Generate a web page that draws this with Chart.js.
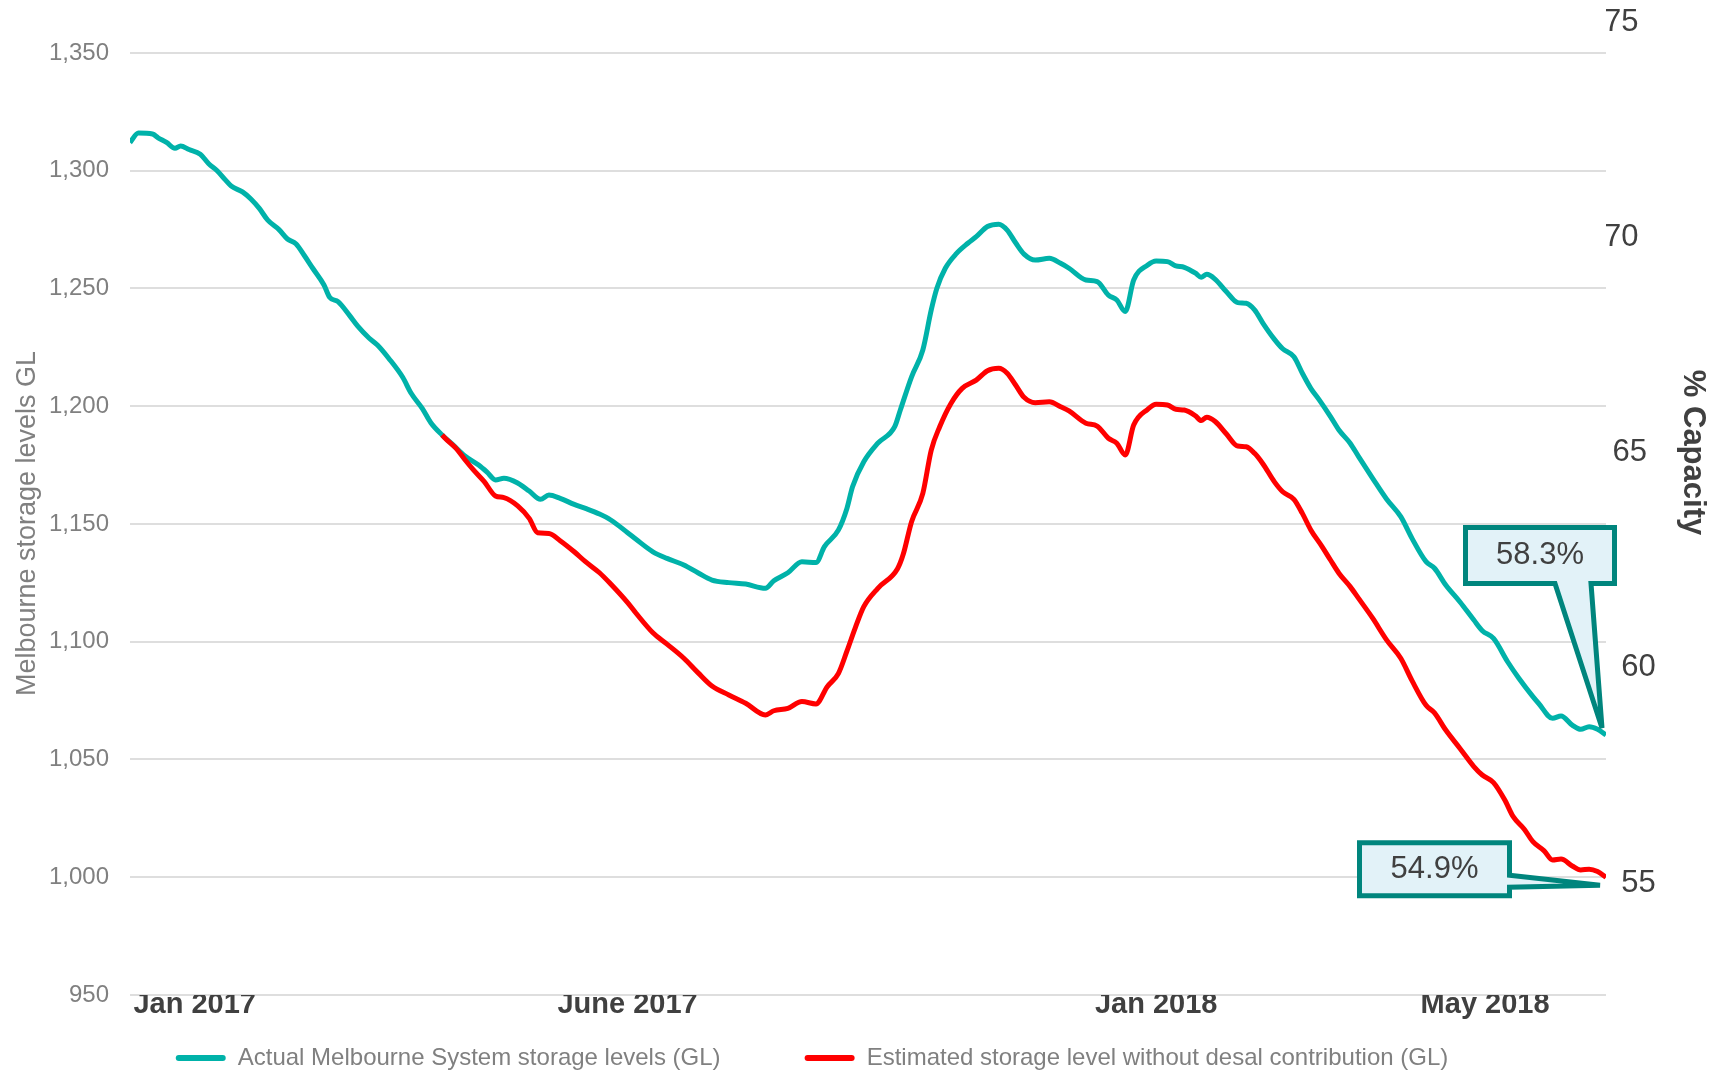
<!DOCTYPE html>
<html>
<head>
<meta charset="utf-8">
<title>Melbourne storage levels</title>
<script src="https://cdn.jsdelivr.net/npm/chart.js@4.4.0/dist/chart.umd.min.js"></script>
<style>
  html, body { margin: 0; padding: 0; background: #fff; }
</style>
</head>
<body>
<canvas id="storage-chart" width="1713" height="1073"></canvas>
<script>
// x values are days counted from the first reading (start of Jan 2017)
const actualDays = [0, 3, 8, 10, 13, 16, 18, 21, 25, 28, 31, 34, 36, 40, 43, 46, 49, 53, 56, 59, 62, 65, 69, 71, 74, 78, 81, 85, 88, 92, 97, 100, 104, 107, 111, 115, 119, 124, 127, 130, 133, 138, 142, 146, 149, 153, 158, 162, 167, 171, 177, 180, 186, 191, 197, 202, 207, 213, 219, 226, 229, 234, 239, 244, 247, 252, 255, 257, 261, 266, 272, 274, 278, 282, 285, 287, 290, 294, 298, 301, 305, 309, 312, 315, 318, 322, 327, 331, 334, 340, 344, 348, 351, 354, 357, 362, 365, 369, 372, 375, 379, 381, 383, 386, 390, 394, 397, 400, 403, 407, 410, 414, 417, 420, 423, 427, 430, 434, 437, 442, 447, 452, 456, 461, 464, 468, 473, 478, 481, 485, 490, 494, 499, 501, 506, 509, 513, 516, 519, 522, 525];
const actualGL = [1312, 1316, 1315.6, 1314, 1312, 1309.5, 1310.5, 1309, 1307, 1303, 1300, 1296, 1293.5, 1291, 1288, 1284, 1279, 1275, 1271, 1269, 1264, 1258.6, 1251.5, 1246.3, 1244.4, 1238.7, 1234, 1229, 1226, 1220.4, 1212.3, 1205.5, 1199, 1193, 1187.8, 1183.5, 1179, 1175, 1172, 1168.7, 1169.4, 1167.3, 1164, 1160.5, 1162.3, 1160.9, 1158.3, 1156.6, 1154.2, 1151.7, 1146.3, 1143.5, 1138.2, 1135.4, 1132.6, 1129.3, 1126.2, 1125.1, 1124.5, 1122.7, 1125.9, 1129.3, 1134, 1133.6, 1140.4, 1147.5, 1156.6, 1165.8, 1176.4, 1184.3, 1191.3, 1198.4, 1212.5, 1223.9, 1240.9, 1250.1, 1258.6, 1264.9, 1269.2, 1272, 1276.3, 1277.3, 1274.8, 1269.4, 1264.6, 1262.1, 1262.8, 1260.7, 1258.6, 1253.6, 1252.9, 1247.2, 1245.1, 1240.2, 1253.6, 1260, 1261.7, 1261.4, 1259.6, 1259, 1256.5, 1254.8, 1256, 1253.9, 1248.6, 1244, 1243.7, 1240.9, 1235.2, 1228.5, 1224.4, 1221, 1214, 1207.6, 1202.7, 1195.6, 1189.9, 1184.3, 1178.6, 1169.4, 1160.5, 1153.1, 1143.9, 1134, 1131.2, 1124.1, 1117, 1109.2, 1104.7, 1101.4, 1091.5, 1084.5, 1076.7, 1073.9, 1067.5, 1068.5, 1064.6, 1062.8, 1063.9, 1062.8, 1060.4];

const estDays = [111, 113, 116, 119, 122, 126, 130, 133, 138, 142, 145, 149, 153, 158, 162, 167, 171, 177, 180, 186, 191, 197, 202, 207, 213, 219, 226, 229, 234, 239, 244, 248, 252, 255, 258, 261, 266, 273, 275, 278, 282, 285, 288, 292, 296, 301, 305, 309, 312, 315, 318, 322, 327, 331, 334, 340, 344, 348, 351, 354, 357, 362, 365, 369, 372, 375, 379, 381, 383, 386, 390, 394, 397, 400, 403, 407, 410, 414, 417, 420, 424, 427, 430, 434, 437, 442, 447, 452, 456, 461, 464, 468, 473, 478, 481, 485, 489, 492, 496, 499, 503, 506, 509, 513, 516, 519, 522, 525];
const estGL = [1187.8, 1185.4, 1182.1, 1177.5, 1173.2, 1168, 1161.9, 1161.2, 1157.6, 1152.4, 1146.3, 1146, 1142.9, 1138.2, 1134, 1129.3, 1124.5, 1116.6, 1112.1, 1103.8, 1099, 1093, 1086.9, 1081.2, 1077.4, 1073.9, 1068.9, 1070.7, 1071.7, 1074.6, 1073.6, 1080.9, 1086.6, 1096, 1106, 1114.9, 1122.7, 1131, 1137, 1151, 1163, 1181.4, 1191.3, 1201.2, 1207.6, 1211.1, 1215.1, 1216.1, 1214, 1209, 1203.8, 1201.5, 1201.9, 1199.8, 1198, 1192.8, 1191.6, 1186.4, 1184.3, 1179.3, 1192, 1198.7, 1200.8, 1200.5, 1198.7, 1198.4, 1195.9, 1193.9, 1195.3, 1193.5, 1188.2, 1183.1, 1182.8, 1180, 1175.5, 1168, 1163.7, 1160.5, 1154.5, 1147.5, 1140.4, 1134.7, 1129.1, 1123.4, 1118.4, 1110, 1100.7, 1093, 1083.5, 1073, 1069.8, 1062.5, 1054.8, 1047, 1043.4, 1040.2, 1032.8, 1025.7, 1020.3, 1015.1, 1011.2, 1007.3, 1007.7, 1004.8, 1003.1, 1003.4, 1002.4, 1000];

const xTickDays = [23, 177, 365, 482];
const xTickLabels = ['Jan 2017', 'June 2017', 'Jan 2018', 'May 2018'];
const glTicks = [950, 1000, 1050, 1100, 1150, 1200, 1250, 1300, 1350];
const capacityTicks = [55, 60, 65, 70, 75];
const calloutLabels = ['58.3%', '54.9%'];

const teal = '#00b2a9';
const red = '#ff0000';
const font = '"Liberation Sans", Arial, sans-serif';

Chart.defaults.font.family = font;

const toPoints = (days, values) => days.map((d, i) => ({ x: d, y: values[i] }));

// the right-hand labels in the original drift to the right going down
const capacityIndent = { 65: ' ', 60: '  ', 55: '  ' };

// draws the two end-of-series percentage callouts
const calloutPlugin = {
    id: 'callouts',
    afterDatasetsDraw(chart) {
        const { ctx, scales: { x, y } } = chart;
        const ends = [
            [actualDays[actualDays.length - 1], actualGL[actualGL.length - 1]],
            [estDays[estDays.length - 1], estGL[estGL.length - 1]]
        ].map(([d, v]) => ({ x: x.getPixelForValue(d), y: y.getPixelForValue(v) }));

        // shapes relative to the pointer tip
        const shapes = [
            { tip: [-4, -7], text: [-62, -172.5],
              path: [[-136.5, -200.5], [12.5, -200.5], [12.5, -144.5], [-11, -144.5], [0, 0], [-47, -144.5], [-136.5, -144.5]] },
            { tip: [-6, 8], text: [-165.5, -16],
              path: [[-240.5, -42.5], [-90.5, -42.5], [-90.5, -10], [0, 0], [-90.5, 2], [-90.5, 10.5], [-240.5, 10.5]] }
        ];

        ctx.save();
        shapes.forEach((s, i) => {
            const tx = ends[i].x + s.tip[0];
            const ty = ends[i].y + s.tip[1];
            ctx.beginPath();
            s.path.forEach(([px, py], j) => {
                if (j === 0) ctx.moveTo(tx + px, ty + py);
                else ctx.lineTo(tx + px, ty + py);
            });
            ctx.closePath();
            ctx.fillStyle = '#e2f2f8';
            ctx.fill();
            ctx.lineWidth = 5;
            ctx.lineJoin = 'miter';
            ctx.miterLimit = 3;
            ctx.strokeStyle = '#00857d';
            ctx.stroke();

            ctx.fillStyle = '#404040';
            ctx.font = `31px ${font}`;
            ctx.textAlign = 'center';
            ctx.textBaseline = 'middle';
            ctx.fillText(calloutLabels[i], tx + s.text[0], ty + s.text[1]);
        });
        ctx.restore();
    }
};

// nudge the legend row left, as in the original
const legendShift = {
    id: 'legendShift',
    afterLayout(chart) {
        if (chart.legend) chart.legend.right -= 96;
    }
};

new Chart(document.getElementById('storage-chart').getContext('2d'), {
    type: 'line',
    data: {
        datasets: [{
            label: 'Actual Melbourne System storage levels (GL)',
            data: toPoints(actualDays, actualGL),
            borderColor: teal,
            backgroundColor: teal,
            borderWidth: 5,
            pointRadius: 0,
            cubicInterpolationMode: 'monotone',
            order: 1
        }, {
            label: 'Estimated storage level without desal contribution (GL)',
            data: toPoints(estDays, estGL),
            borderColor: red,
            backgroundColor: red,
            borderWidth: 5,
            pointRadius: 0,
            cubicInterpolationMode: 'monotone',
            order: 0 // red sits on top where the two lines meet
        }]
    },
    options: {
        responsive: false,
        animation: false,
        devicePixelRatio: 1,
        layout: { padding: { top: 22, left: 7, right: 0, bottom: 0 } },
        plugins: {
            tooltip: { enabled: false },
            legend: {
                position: 'bottom',
                maxHeight: 31,
                labels: {
                    color: '#808080',
                    font: { size: 24 },
                    boxWidth: 50,
                    boxHeight: 6,
                    padding: 4,
                    useBorderRadius: true,
                    borderRadius: 3,
                    generateLabels: (chart) => Chart.defaults.plugins.legend.labels.generateLabels(chart)
                        .sort((a, b) => a.datasetIndex - b.datasetIndex)
                        .map((item) => ({
                            ...item,
                            text: item.datasetIndex === 0 ? item.text + '            ' : item.text,
                            fillStyle: chart.data.datasets[item.datasetIndex].borderColor,
                            lineWidth: 0
                        }))
                }
            }
        },
        scales: {
            x: {
                type: 'linear',
                min: 0,
                max: 525,
                grid: { display: false },
                border: { display: false },
                afterBuildTicks: (scale) => { scale.ticks = xTickDays.map(v => ({ value: v })); },
                afterFit: (scale) => { scale.height = 47; scale.paddingLeft = 0; scale.paddingRight = 0; },
                ticks: {
                    autoSkip: false,
                    maxRotation: 0,
                    padding: -15,
                    color: '#404040',
                    font: { size: 29, weight: 'bold' },
                    callback: (value) => xTickLabels[xTickDays.indexOf(value)]
                }
            },
            y: {
                position: 'left',
                min: 950,
                max: 1363.16,
                grid: { color: '#dedede', lineWidth: 2, drawTicks: false },
                border: { display: false },
                afterBuildTicks: (scale) => { scale.ticks = glTicks.map(v => ({ value: v })); },
                afterFit: (scale) => { scale.width = 123; scale.paddingTop = 0; scale.paddingBottom = 0; },
                ticks: {
                    padding: 21,
                    color: '#808080',
                    font: { size: 24 },
                    callback: (value) => value.toLocaleString('en-US')
                },
                title: {
                    display: true,
                    text: 'Melbourne storage levels GL    ',
                    color: '#808080',
                    font: { size: 27 },
                    padding: { top: 4, bottom: 0 }
                }
            },
            y1: {
                position: 'right',
                min: 52.4,
                max: 75,
                grid: { display: false, drawTicks: false },
                border: { display: false },
                afterBuildTicks: (scale) => { scale.ticks = capacityTicks.map(v => ({ value: v })); },
                afterFit: (scale) => { scale.width = 107; scale.paddingTop = 0; scale.paddingBottom = 0; },
                ticks: {
                    padding: -2,
                    color: '#404040',
                    font: { size: 31 },
                    callback: (value) => (capacityIndent[value] || '') + value
                },
                title: {
                    display: true,
                    text: '% Capacity             ',
                    color: '#404040',
                    font: { size: 31, weight: 'bold' },
                    padding: { top: 2, bottom: 0 }
                }
            }
        }
    },
    plugins: [calloutPlugin, legendShift]
});
</script>
</body>
</html>
